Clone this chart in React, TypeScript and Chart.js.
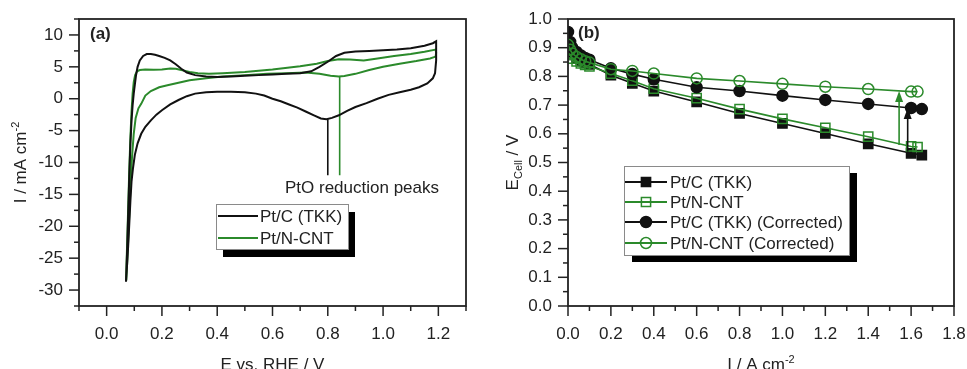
import React, { useEffect, useRef } from 'react';
import { Chart, registerables } from 'chart.js';
Chart.register(...registerables);

const FONT = '"Liberation Sans", Arial, Helvetica, sans-serif';
const BLACK = '#111111';
const GREEN = '#2b8a2b';
const AXIS = '#222222';

// ---------------- Panel (a): cyclic voltammograms ----------------
const cvTkkE = [0.070, 0.074, 0.078, 0.082, 0.086, 0.090, 0.094, 0.098, 0.102, 0.106, 0.112, 0.120, 0.132, 0.145, 0.160, 0.175, 0.190, 0.210, 0.230, 0.250, 0.270, 0.290, 0.320, 0.360, 0.400, 0.450, 0.500, 0.550, 0.600, 0.650, 0.700, 0.740, 0.770, 0.800, 0.830, 0.860, 0.900, 0.950, 1.000, 1.050, 1.100, 1.150, 1.180, 1.192, 1.192, 1.188, 1.180, 1.160, 1.130, 1.100, 1.060, 1.020, 0.980, 0.940, 0.900, 0.870, 0.840, 0.815, 0.795, 0.775, 0.750, 0.720, 0.690, 0.660, 0.630, 0.600, 0.570, 0.540, 0.500, 0.450, 0.400, 0.360, 0.320, 0.290, 0.260, 0.230, 0.200, 0.180, 0.160, 0.140, 0.125, 0.112, 0.102, 0.095, 0.090, 0.086, 0.082, 0.078, 0.074, 0.070];
const cvTkkI = [-28.7, -24, -18, -12, -7, -3.5, -1, 0.8, 2.2, 3.6, 5.0, 6.0, 6.7, 7.0, 7.0, 6.9, 6.7, 6.4, 6.0, 5.4, 4.7, 4.1, 3.7, 3.5, 3.4, 3.5, 3.6, 3.7, 3.8, 3.9, 4.0, 4.3, 5.0, 5.8, 6.7, 7.2, 7.4, 7.5, 7.6, 7.7, 7.9, 8.3, 8.7, 9.0, 6.0, 4.0, 3.2, 2.4, 1.8, 1.4, 1.0, 0.6, 0.0, -0.7, -1.3, -1.9, -2.6, -3.0, -3.2, -3.1, -2.6, -2.0, -1.4, -0.9, -0.4, 0.0, 0.5, 0.8, 1.0, 1.1, 1.1, 1.0, 0.8, 0.4, -0.2, -0.9, -1.8, -2.5, -3.4, -4.4, -5.5, -7, -8.8, -11, -13, -16, -19.5, -23, -26, -28.7];
const cvCntE = [0.070, 0.074, 0.078, 0.082, 0.086, 0.090, 0.094, 0.098, 0.103, 0.110, 0.120, 0.140, 0.170, 0.200, 0.230, 0.250, 0.270, 0.300, 0.330, 0.370, 0.420, 0.500, 0.600, 0.700, 0.760, 0.800, 0.840, 0.880, 0.930, 0.980, 1.040, 1.100, 1.150, 1.190, 1.192, 1.190, 1.170, 1.120, 1.060, 1.000, 0.950, 0.900, 0.860, 0.840, 0.810, 0.770, 0.720, 0.650, 0.580, 0.500, 0.420, 0.360, 0.300, 0.260, 0.220, 0.190, 0.160, 0.140, 0.125, 0.115, 0.105, 0.098, 0.092, 0.087, 0.083, 0.079, 0.075, 0.071];
const cvCntI = [-28.5, -23, -17, -11, -6, -2, 0.8, 2.6, 3.7, 4.3, 4.5, 4.6, 4.55, 4.6, 4.75, 4.7, 4.5, 4.2, 4.0, 3.9, 4.0, 4.2, 4.6, 5.1, 5.5, 5.9, 6.2, 6.15, 6.0, 6.3, 6.7, 7.0, 7.35, 7.7, 7.2, 6.6, 6.3, 5.9, 5.5, 5.0, 4.5, 3.9, 3.55, 3.5, 3.6, 3.9, 4.1, 4.0, 3.9, 3.7, 3.5, 3.2, 2.9, 2.5, 2.1, 1.8, 1.2, 0.5, -0.8, -1.5, -3, -5.5, -9, -13, -17, -21, -25, -28.5];
const peakE = [0.80, 0.843];
const peakI = [-3.2, 3.5];
const peakLineEnd = -12;
const aLegend = ['Pt/C (TKK)', 'Pt/N-CNT'];
const aXTicks = [0.0, 0.2, 0.4, 0.6, 0.8, 1.0, 1.2];
const aXTickLabels = ['0.0', '0.2', '0.4', '0.6', '0.8', '1.0', '1.2'];
const aYTicks = [-30, -25, -20, -15, -10, -5, 0, 5, 10];
const aYTickLabels = ['-30', '-25', '-20', '-15', '-10', '-5', '0', '5', '10'];

// ---------------- Panel (b): polarisation curves ----------------
const bJ = [0, 0.01, 0.02, 0.04, 0.06, 0.08, 0.1, 0.2, 0.3, 0.4, 0.6, 0.8, 1.0, 1.2, 1.4, 1.6, 1.65];
const bJCnt = [0, 0.01, 0.02, 0.04, 0.06, 0.08, 0.1, 0.2, 0.3, 0.4, 0.6, 0.8, 1.0, 1.2, 1.4, 1.6, 1.63];
const bTkk = [0.915, 0.89, 0.875, 0.862, 0.853, 0.847, 0.842, 0.804, 0.776, 0.749, 0.711, 0.671, 0.636, 0.601, 0.565, 0.532, 0.526];
const bCnt = [0.90, 0.875, 0.862, 0.852, 0.845, 0.84, 0.835, 0.81, 0.785, 0.757, 0.724, 0.686, 0.652, 0.621, 0.59, 0.556, 0.554];
const bTkkCorr = [0.955, 0.92, 0.90, 0.885, 0.873, 0.864, 0.858, 0.828, 0.808, 0.79, 0.762, 0.749, 0.733, 0.718, 0.704, 0.69, 0.686];
const bCntCorr = [0.91, 0.893, 0.88, 0.868, 0.86, 0.853, 0.848, 0.825, 0.819, 0.81, 0.793, 0.784, 0.774, 0.764, 0.756, 0.747, 0.747];
const arrowJ = [1.584, 1.544];
const arrowFrom = [0.538, 0.561];
const arrowTo = [0.69, 0.749];
const bLegend = ['Pt/C (TKK)', 'Pt/N-CNT', 'Pt/C (TKK) (Corrected)', 'Pt/N-CNT (Corrected)'];
const bXTicks = [0, 0.2, 0.4, 0.6, 0.8, 1.0, 1.2, 1.4, 1.6, 1.8];
const bXTickLabels = ['0.0', '0.2', '0.4', '0.6', '0.8', '1.0', '1.2', '1.4', '1.6', '1.8'];
const bYTicks = [0, 0.1, 0.2, 0.3, 0.4, 0.5, 0.6, 0.7, 0.8, 0.9, 1.0];
const bYTickLabels = ['0.0', '0.1', '0.2', '0.3', '0.4', '0.5', '0.6', '0.7', '0.8', '0.9', '1.0'];

type Part = { t: string; size: number; dy?: number; bold?: boolean };

function fontOf(p: Part) {
  return `${p.bold ? 'bold ' : ''}${p.size}px ${FONT}`;
}

function drawRich(ctx: CanvasRenderingContext2D, parts: Part[], x: number, y: number, rotate = false, align: 'center' | 'left' = 'center') {
  ctx.save();
  ctx.translate(x, y);
  if (rotate) ctx.rotate(-Math.PI / 2);
  let w = 0;
  for (const p of parts) {
    ctx.font = fontOf(p);
    w += ctx.measureText(p.t).width;
  }
  let cx = align === 'center' ? -w / 2 : 0;
  ctx.textBaseline = 'alphabetic';
  ctx.textAlign = 'left';
  ctx.fillStyle = AXIS;
  for (const p of parts) {
    ctx.font = fontOf(p);
    ctx.fillText(p.t, cx, p.dy || 0);
    cx += ctx.measureText(p.t).width;
  }
  ctx.restore();
}

function drawFrameAndTicks(chart: any, xStep: number, yStep: number) {
  const { ctx, chartArea: ca, scales } = chart;
  const xs = scales.x;
  const ys = scales.y;
  ctx.save();
  ctx.strokeStyle = AXIS;
  ctx.lineWidth = 1.8;
  ctx.strokeRect(ca.left, ca.top, ca.right - ca.left, ca.bottom - ca.top);
  ctx.lineWidth = 1.5;
  const half = (s: number) => s / 2;
  const xStart = Math.ceil(xs.min / half(xStep) - 1e-6);
  const xEnd = Math.floor(xs.max / half(xStep) + 1e-6);
  for (let k = xStart; k <= xEnd; k++) {
    const v = k * half(xStep);
    const px = xs.getPixelForValue(v);
    const major = Math.abs(k % 2) === 0;
    ctx.beginPath();
    ctx.moveTo(px, ca.bottom);
    ctx.lineTo(px, ca.bottom + (major ? 10 : 5));
    ctx.stroke();
  }
  const yStart = Math.ceil(ys.min / half(yStep) - 1e-6);
  const yEnd = Math.floor(ys.max / half(yStep) + 1e-6);
  for (let k = yStart; k <= yEnd; k++) {
    const v = k * half(yStep);
    const py = ys.getPixelForValue(v);
    const major = Math.abs(k % 2) === 0;
    ctx.beginPath();
    ctx.moveTo(ca.left, py);
    ctx.lineTo(ca.left - (major ? 10 : 5), py);
    ctx.stroke();
  }
  ctx.restore();
}

function drawMarker(ctx: CanvasRenderingContext2D, style: string, x: number, y: number, r: number, fill: string, stroke: string) {
  ctx.beginPath();
  if (style === 'rect') {
    const s = r * Math.SQRT1_2;
    ctx.rect(x - s, y - s, 2 * s, 2 * s);
  } else {
    ctx.arc(x, y, r, 0, Math.PI * 2);
  }
  if (fill !== 'transparent') {
    ctx.fillStyle = fill;
    ctx.fill();
  }
  ctx.strokeStyle = stroke;
  ctx.lineWidth = 1.5;
  ctx.stroke();
}

function drawLegend(chart: any, box: { x: number; y: number; w: number; h: number; sx: number; sy: number }, rowY: number[], lineX0: number, lineX1: number, textX: number, labels: string[], dsIdx: number[]) {
  const { ctx } = chart;
  ctx.save();
  ctx.fillStyle = '#000';
  ctx.fillRect(box.x + box.sx, box.y + box.sy, box.w, box.h);
  ctx.fillStyle = '#fff';
  ctx.fillRect(box.x, box.y, box.w, box.h);
  ctx.strokeStyle = '#8a8a8a';
  ctx.lineWidth = 1;
  ctx.strokeRect(box.x + 0.5, box.y + 0.5, box.w, box.h);
  labels.forEach((lab, i) => {
    const ds = chart.data.datasets[dsIdx[i]];
    const y = rowY[i];
    ctx.strokeStyle = ds.borderColor;
    ctx.lineWidth = 2;
    ctx.beginPath();
    ctx.moveTo(lineX0, y);
    ctx.lineTo(lineX1, y);
    ctx.stroke();
    if (ds.pointRadius > 0) {
      drawMarker(ctx, ds.pointStyle, (lineX0 + lineX1) / 2, y, ds.pointRadius, ds.pointBackgroundColor, ds.pointBorderColor);
    }
    ctx.fillStyle = AXIS;
    ctx.font = `17px ${FONT}`;
    ctx.textBaseline = 'middle';
    ctx.textAlign = 'left';
    ctx.fillText(lab, textX, y + 1);
  });
  ctx.restore();
}

function pts(xs: number[], ys: number[]) {
  return xs.map((x, i) => ({ x, y: ys[i] }));
}

function baseScales(xMin: number, xMax: number, yMin: number, yMax: number, xT: number[], xL: string[], yT: number[], yL: string[], yWidth: number) {
  return {
    x: {
      type: 'linear',
      min: xMin,
      max: xMax,
      grid: { display: false, drawTicks: false },
      border: { display: false },
      afterBuildTicks: (s: any) => { s.ticks = xT.map((v) => ({ value: v })); },
      afterFit: (s: any) => { s.height = 63; s.paddingLeft = 0; s.paddingRight = 0; s.paddingTop = 0; s.paddingBottom = 0; },
      ticks: {
        autoSkip: false,
        maxRotation: 0,
        padding: 18,
        color: AXIS,
        font: { family: FONT, size: 17 },
        callback: (_v: any, i: number) => xL[i],
      },
    },
    y: {
      type: 'linear',
      min: yMin,
      max: yMax,
      grid: { display: false, drawTicks: false },
      border: { display: false },
      afterBuildTicks: (s: any) => { s.ticks = yT.map((v) => ({ value: v })); },
      afterFit: (s: any) => { s.width = yWidth; s.paddingLeft = 0; s.paddingRight = 0; s.paddingTop = 0; s.paddingBottom = 0; },
      ticks: {
        autoSkip: false,
        padding: 16,
        color: AXIS,
        font: { family: FONT, size: 17 },
        callback: (_v: any, i: number) => yL[i],
      },
    },
  };
}

function PanelA() {
  const ref = useRef<HTMLCanvasElement>(null);
  useEffect(() => {
    const decor = {
      id: 'decorA',
      afterDraw(chart: any) {
        const { ctx } = chart;
        drawFrameAndTicks(chart, 0.2, 5);
        drawRich(ctx, [{ t: 'I / mA cm', size: 17 }, { t: '-2', size: 11, dy: -7 }], 26, 162.5, true);
        drawRich(ctx, [{ t: 'E vs. RHE / V', size: 17 }], 272.5, 369.5);
        drawRich(ctx, [{ t: '(a)', size: 17, bold: true }], 90, 39, false, 'left');
        drawRich(ctx, [{ t: 'PtO reduction peaks', size: 17 }], 285, 193, false, 'left');
        drawLegend(chart, { x: 216, y: 204, w: 132, h: 45, sx: 7, sy: 8 }, [216, 238], 218, 258, 260, aLegend, [0, 1]);
      },
    };
    const chart = new Chart(ref.current as HTMLCanvasElement, {
      type: 'scatter',
      data: {
        datasets: [
          { label: aLegend[0], data: pts(cvTkkE, cvTkkI), showLine: true, borderColor: BLACK, borderWidth: 2, pointRadius: 0, tension: 0 },
          { label: aLegend[1], data: pts(cvCntE, cvCntI), showLine: true, borderColor: GREEN, borderWidth: 2, pointRadius: 0, tension: 0 },
          { label: 'peakTkk', data: pts([peakE[0], peakE[0]], [peakI[0], peakLineEnd]), showLine: true, borderColor: BLACK, borderWidth: 1.6, pointRadius: 0 },
          { label: 'peakCnt', data: pts([peakE[1], peakE[1]], [peakI[1], peakLineEnd]), showLine: true, borderColor: GREEN, borderWidth: 1.6, pointRadius: 0 },
        ],
      } as any,
      options: {
        responsive: false,
        animation: false,
        layout: { padding: { left: 0, top: 19, right: 14, bottom: 0 } },
        plugins: { legend: { display: false }, tooltip: { enabled: false } },
        scales: baseScales(-0.1, 1.3, -32.5, 12.5, aXTicks, aXTickLabels, aYTicks, aYTickLabels, 79) as any,
      },
      plugins: [decor],
    });
    return () => chart.destroy();
  }, []);
  return <canvas ref={ref} width={480} height={369} style={{ display: 'block', width: 480, height: 369 }} />;
}

function PanelB() {
  const ref = useRef<HTMLCanvasElement>(null);
  useEffect(() => {
    const decor = {
      id: 'decorB',
      afterDraw(chart: any) {
        const { ctx, scales } = chart;
        drawFrameAndTicks(chart, 0.2, 0.1);
        drawRich(ctx, [{ t: 'E', size: 17 }, { t: 'Cell', size: 11, dy: 4 }, { t: ' / V', size: 17 }], 38, 162.5, true);
        drawRich(ctx, [{ t: 'I / A cm', size: 17 }, { t: '-2', size: 11, dy: -7 }], 281, 369.5);
        drawRich(ctx, [{ t: '(b)', size: 17, bold: true }], 98, 38, false, 'left');
        const cols = [BLACK, GREEN];
        ctx.save();
        arrowJ.forEach((j, i) => {
          const px = scales.x.getPixelForValue(j);
          const y0 = scales.y.getPixelForValue(arrowFrom[i]);
          const y1 = scales.y.getPixelForValue(arrowTo[i]);
          ctx.strokeStyle = cols[i];
          ctx.fillStyle = cols[i];
          ctx.lineWidth = 1.6;
          ctx.beginPath();
          ctx.moveTo(px, y0);
          ctx.lineTo(px, y1 + 8);
          ctx.stroke();
          ctx.beginPath();
          ctx.moveTo(px, y1);
          ctx.lineTo(px - 4, y1 + 11);
          ctx.lineTo(px + 4, y1 + 11);
          ctx.closePath();
          ctx.fill();
        });
        ctx.restore();
        drawLegend(chart, { x: 144, y: 166, w: 225, h: 89, sx: 8, sy: 7 }, [182, 202, 222, 243], 145, 187, 190, bLegend, [0, 1, 2, 3]);
      },
    };
    const chart = new Chart(ref.current as HTMLCanvasElement, {
      type: 'scatter',
      data: {
        datasets: [
          { label: bLegend[0], data: pts(bJ, bTkk), showLine: true, borderColor: BLACK, borderWidth: 1.6, pointStyle: 'rect', pointRadius: 6.5, pointBackgroundColor: BLACK, pointBorderColor: BLACK, pointBorderWidth: 1.5, order: 4 },
          { label: bLegend[1], data: pts(bJCnt, bCnt), showLine: true, borderColor: GREEN, borderWidth: 1.6, pointStyle: 'rect', pointRadius: 6.5, pointBackgroundColor: 'transparent', pointBorderColor: GREEN, pointBorderWidth: 1.5, order: 3 },
          { label: bLegend[2], data: pts(bJ, bTkkCorr), showLine: true, borderColor: BLACK, borderWidth: 1.6, pointStyle: 'circle', pointRadius: 5.5, pointBackgroundColor: BLACK, pointBorderColor: BLACK, pointBorderWidth: 1.5, order: 2 },
          { label: bLegend[3], data: pts(bJCnt, bCntCorr), showLine: true, borderColor: GREEN, borderWidth: 1.6, pointStyle: 'circle', pointRadius: 5.5, pointBackgroundColor: 'transparent', pointBorderColor: GREEN, pointBorderWidth: 1.5, order: 1 },
        ],
      } as any,
      options: {
        responsive: false,
        animation: false,
        layout: { padding: { left: 0, top: 19, right: 13, bottom: 0 } },
        plugins: { legend: { display: false }, tooltip: { enabled: false } },
        scales: baseScales(0, 1.8, 0, 1.0, bXTicks, bXTickLabels, bYTicks, bYTickLabels, 88) as any,
      },
      plugins: [decor],
    });
    return () => chart.destroy();
  }, []);
  return <canvas ref={ref} width={487} height={369} style={{ display: 'block', width: 487, height: 369 }} />;
}

export default function App() {
  return (
    <div style={{ position: 'absolute', left: 0, top: 0, width: 967, height: 369, background: '#fff', display: 'flex', overflow: 'hidden' }}>
      <PanelA />
      <PanelB />
    </div>
  );
}
